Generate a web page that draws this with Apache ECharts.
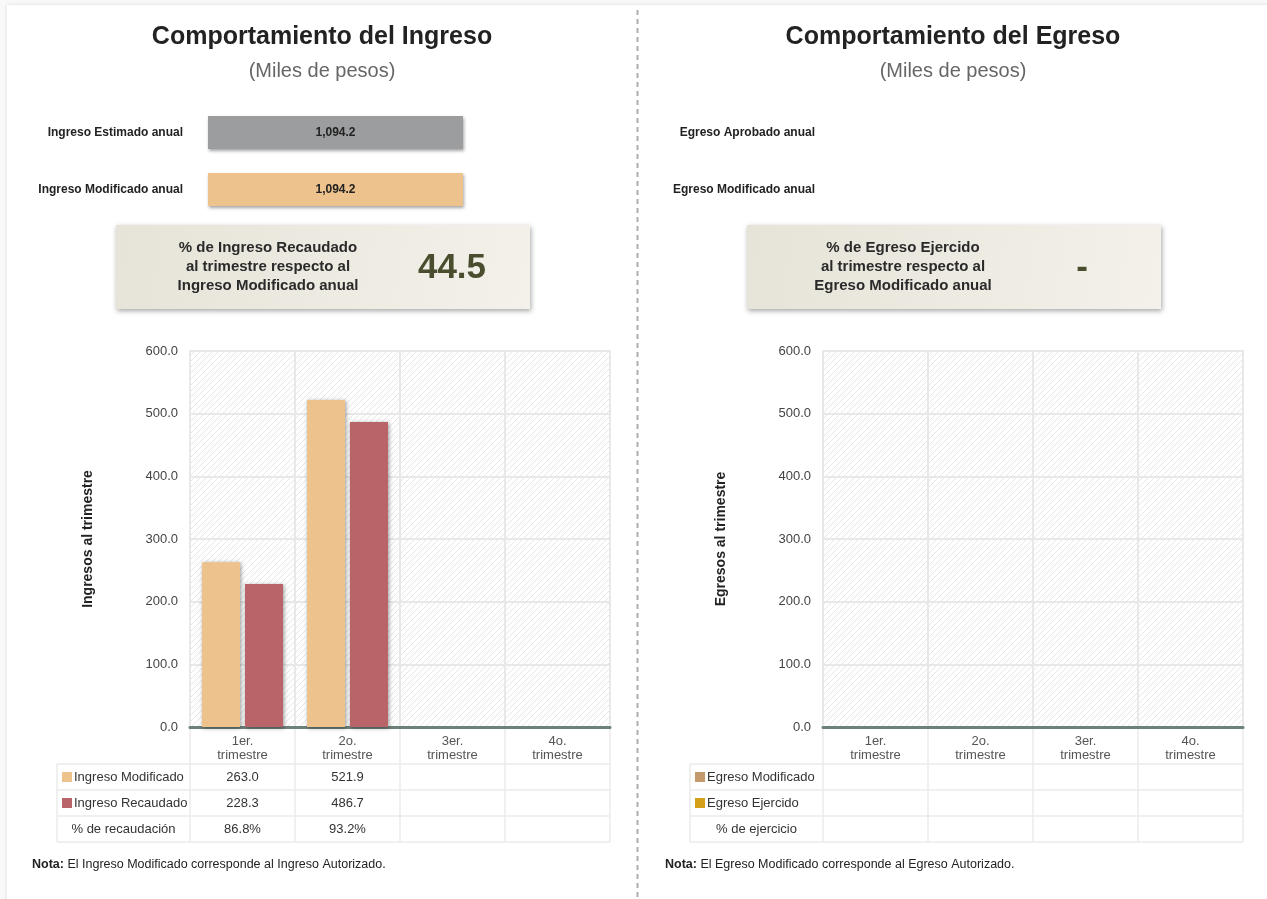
<!DOCTYPE html>
<html>
<head>
<meta charset="utf-8">
<script src="https://cdn.jsdelivr.net/npm/echarts@6/dist/echarts.min.js"></script>
<style>
html,body{margin:0;padding:0;background:#f9f9f9;}
#c{width:1267px;height:899px;}
</style>
</head>
<body>
<div id="c"></div>
<script>
// ---------- DATA ----------
const quarters = ['1er.\ntrimestre', '2o.\ntrimestre', '3er.\ntrimestre', '4o.\ntrimestre'];
const ingresoModificado = [263.0, 521.9, null, null];
const ingresoRecaudado = [228.3, 486.7, null, null];
const pctRecaudacion = ['86.8%', '93.2%', '', ''];
const egresoModificado = [null, null, null, null];
const egresoEjercido = [null, null, null, null];
const pctEjercicio = ['', '', '', ''];
const annualIngresoLabels = ['Ingreso Estimado anual', 'Ingreso Modificado anual'];
const annualIngresoValues = [1094.2, 1094.2];
const annualEgresoLabels = ['Egreso Aprobado anual', 'Egreso Modificado anual'];
const annualEgresoValues = [null, null];
const kpiIngreso = 44.5;
const kpiEgreso = null;
const yMin = 0, yMax = 600, yInterval = 100;

// ---------- STYLE ----------
const FONT = "'Liberation Sans', Arial, Helvetica, sans-serif";
const C_ORANGE = '#eec28c', C_RED = '#b86468', C_GRAY = '#9c9d9f';
const C_EMOD = '#c49a6c', C_EEJ = '#d4a017';

function hatch() {
  const cv = document.createElement('canvas');
  cv.width = 6; cv.height = 6;
  const ctx = cv.getContext('2d');
  ctx.fillStyle = '#ffffff'; ctx.fillRect(0, 0, 6, 6);
  ctx.strokeStyle = '#e7e7e7'; ctx.lineWidth = 1;
  ctx.beginPath();
  ctx.moveTo(0, 6); ctx.lineTo(6, 0);
  ctx.moveTo(-1, 1); ctx.lineTo(1, -1);
  ctx.moveTo(5, 7); ctx.lineTo(7, 5);
  ctx.stroke();
  return { image: cv, repeat: 'repeat' };
}
const fmt1 = v => (v == null ? '' : v.toLocaleString('en-US', { minimumFractionDigits: 1, maximumFractionDigits: 1 }));

const chart = echarts.init(document.getElementById('c'), null, { renderer: 'canvas' });

const panels = [
  { plotLeft: 190, tableLeft: 57, annualLeft: 208, cx: 322, title: 'Comportamiento del Ingreso', yName: 'Ingresos al trimestre',
    kpiX: 116, kpiTextX: 268, kpiValX: 452, kpiLines: ['% de Ingreso Recaudado', 'al trimestre respecto al', 'Ingreso Modificado anual'],
    kpi: kpiIngreso, rows: [
      { name: 'Ingreso Modificado', color: C_ORANGE, vals: ingresoModificado.map(fmt1) },
      { name: 'Ingreso Recaudado', color: C_RED, vals: ingresoRecaudado.map(fmt1) },
      { name: '% de recaudación', color: null, vals: pctRecaudacion }],
    note: 'El Ingreso Modificado corresponde al Ingreso Autorizado.', noteX: 32 },
  { plotLeft: 823, tableLeft: 690, annualLeft: 840, cx: 953, title: 'Comportamiento del Egreso', yName: 'Egresos al trimestre',
    kpiX: 747, kpiTextX: 903, kpiValX: 1082, kpiLines: ['% de Egreso Ejercido', 'al trimestre respecto al', 'Egreso Modificado anual'],
    kpi: kpiEgreso, rows: [
      { name: 'Egreso Modificado', color: C_EMOD, vals: egresoModificado.map(fmt1) },
      { name: 'Egreso Ejercido', color: C_EEJ, vals: egresoEjercido.map(fmt1) },
      { name: '% de ejercicio', color: null, vals: pctEjercicio }],
    note: 'El Egreso Modificado corresponde al Egreso Autorizado.', noteX: 665 }
];

const PLOT_TOP = 351, PLOT_H = 376, PLOT_W = 420, COLW = 105;
const ROWS_Y = [764, 790, 816, 842];

const graphics = [];
// card
graphics.push({ type: 'rect', z: -10, shape: { x: 7, y: 5, width: 1300, height: 950 },
  style: { fill: '#fff', shadowBlur: 4, shadowColor: 'rgba(0,0,0,0.12)' } });
// dashed divider
graphics.push({ type: 'line', shape: { x1: 637.5, y1: 10, x2: 637.5, y2: 899 },
  style: { stroke: '#adadad', lineWidth: 2, lineDash: [5, 4] } });

panels.forEach((p, pi) => {
  graphics.push({ type: 'text', style: { text: p.title, x: p.cx, y: 37, textAlign: 'center', textVerticalAlign: 'middle',
    font: 'bold 25px ' + FONT, fill: '#222' } });
  graphics.push({ type: 'text', style: { text: '(Miles de pesos)', x: p.cx, y: 71, textAlign: 'center', textVerticalAlign: 'middle',
    font: '20px ' + FONT, fill: '#666' } });
  // KPI box
  graphics.push({ type: 'rect', shape: { x: p.kpiX, y: 225, width: 414, height: 84 },
    style: { fill: new echarts.graphic.LinearGradient(0, 0, 1, 1, [{ offset: 0, color: '#e6e3d8' }, { offset: 1, color: '#f3f1ea' }]),
      shadowBlur: 5, shadowOffsetX: 1, shadowOffsetY: 2, shadowColor: 'rgba(0,0,0,0.35)' } });
  p.kpiLines.forEach((t, i) => {
    graphics.push({ type: 'text', style: { text: t, x: p.kpiTextX, y: 248 + i * 19, textAlign: 'center', textVerticalAlign: 'middle',
      font: 'bold 15px ' + FONT, fill: '#2a2a2a' } });
  });
  graphics.push({ type: 'text', style: { text: p.kpi == null ? '-' : p.kpi.toFixed(1), x: p.kpiValX, y: 268,
    textAlign: 'center', textVerticalAlign: 'middle', font: 'bold 35px ' + FONT, fill: '#4a4e2e' } });
  // table
  const L = p.plotLeft, T = p.tableLeft, R = L + PLOT_W;
  const LC = '#ebebeb';
  ROWS_Y.forEach(y => graphics.push({ type: 'line', shape: { x1: T, y1: y, x2: R, y2: y }, style: { stroke: LC, lineWidth: 1.5 } }));
  for (let k = 0; k <= 4; k++) {
    const x = L + k * COLW;
    graphics.push({ type: 'line', shape: { x1: x, y1: PLOT_TOP + PLOT_H + 1, x2: x, y2: ROWS_Y[3] }, style: { stroke: LC, lineWidth: 1.5 } });
  }
  graphics.push({ type: 'line', shape: { x1: T, y1: ROWS_Y[0], x2: T, y2: ROWS_Y[3] }, style: { stroke: LC, lineWidth: 1.5 } });
  p.rows.forEach((r, ri) => {
    const yc = (ROWS_Y[ri] + ROWS_Y[ri + 1]) / 2;
    if (r.color) {
      graphics.push({ type: 'rect', shape: { x: T + 5, y: yc - 5, width: 10, height: 10 }, style: { fill: r.color } });
      graphics.push({ type: 'text', style: { text: r.name, x: T + 17, y: yc, textVerticalAlign: 'middle', font: '13px ' + FONT, fill: '#333' } });
    } else {
      graphics.push({ type: 'text', style: { text: r.name, x: (T + L) / 2, y: yc, textAlign: 'center', textVerticalAlign: 'middle', font: '13px ' + FONT, fill: '#333' } });
    }
    r.vals.forEach((v, k) => {
      graphics.push({ type: 'text', style: { text: v, x: L + k * COLW + COLW / 2, y: yc, textAlign: 'center', textVerticalAlign: 'middle', font: '13px ' + FONT, fill: '#333' } });
    });
  });
  // note
  graphics.push({ type: 'text', style: { text: '{b|Nota:} ' + p.note, x: p.noteX, y: 865, textVerticalAlign: 'middle',
    font: '12.5px ' + FONT, fill: '#222', rich: { b: { fontWeight: 'bold', fontSize: 12.5, fontFamily: FONT, fill: '#222' } } } });
});

const pattern = hatch();
const grids = [], xAxes = [], yAxes = [], series = [];
// annual bars
[[annualIngresoLabels, annualIngresoValues], [annualEgresoLabels, annualEgresoValues]].forEach((pair, i) => {
  grids.push({ left: panels[i].annualLeft, top: 104, width: 255, height: 114 });
  const vals = pair[1].filter(v => v != null);
  xAxes.push({ gridIndex: i, type: 'value', min: 0, max: vals.length ? Math.max(...vals) : 1, show: false });
  yAxes.push({ gridIndex: i, type: 'category', inverse: true, data: pair[0], axisLine: { show: false }, axisTick: { show: false },
    axisLabel: { margin: 25, fontFamily: FONT, fontSize: 12, fontWeight: 'bold', color: '#222' } });
  series.push({ type: 'bar', xAxisIndex: i, yAxisIndex: i, barWidth: 33,
    data: pair[1].map((v, k) => ({ value: v, itemStyle: { color: k === 0 ? C_GRAY : C_ORANGE } })),
    itemStyle: { shadowBlur: 3, shadowOffsetX: 1, shadowOffsetY: 2, shadowColor: 'rgba(0,0,0,0.35)' },
    label: { show: true, position: 'inside', formatter: d => fmt1(d.value), fontFamily: FONT, fontSize: 12, fontWeight: 'bold', color: '#222' },
    silent: true });
});
// quarterly charts
[[ingresoModificado, ingresoRecaudado, C_ORANGE, C_RED], [egresoModificado, egresoEjercido, C_EMOD, C_EEJ]].forEach((d, j) => {
  const gi = 2 + j;
  grids.push({ left: panels[j].plotLeft, top: PLOT_TOP, width: PLOT_W, height: PLOT_H, show: true,
    backgroundColor: pattern, borderColor: '#e8e8e8', borderWidth: 2 });
  xAxes.push({ gridIndex: gi, type: 'category', data: quarters,
    axisLine: { lineStyle: { color: '#6d817c', width: 3 } }, axisTick: { show: false },
    splitLine: { show: true, lineStyle: { color: '#e8e8e8', width: 2 } },
    axisLabel: { margin: 7, fontFamily: FONT, fontSize: 13, lineHeight: 14, color: '#555' } });
  yAxes.push({ gridIndex: gi, type: 'value', min: yMin, max: yMax, interval: yInterval,
    name: panels[j].yName, nameLocation: 'middle', nameGap: 95, nameRotate: 90,
    nameTextStyle: { fontFamily: FONT, fontSize: 14, fontWeight: 'bold', color: '#222' },
    axisLine: { show: false }, axisTick: { show: false },
    splitLine: { lineStyle: { color: '#e8e8e8', width: 2 } },
    axisLabel: { margin: 12, fontFamily: FONT, fontSize: 13, color: '#444', formatter: v => v.toFixed(1) } });
  const sh = { shadowBlur: 4, shadowOffsetX: 1, shadowOffsetY: 1, shadowColor: 'rgba(0,0,0,0.4)' };
  series.push({ type: 'bar', xAxisIndex: gi, yAxisIndex: gi, data: d[0], barWidth: 38, barGap: '13%',
    itemStyle: Object.assign({ color: d[2] }, sh), silent: true });
  series.push({ type: 'bar', xAxisIndex: gi, yAxisIndex: gi, data: d[1], barWidth: 38, barGap: '13%',
    itemStyle: Object.assign({ color: d[3] }, sh), silent: true });
});

chart.setOption({
  animation: false,
  backgroundColor: '#f9f9f9',
  textStyle: { fontFamily: FONT },
  grid: grids, xAxis: xAxes, yAxis: yAxes, series: series,
  graphic: { elements: graphics }
});
</script>
</body>
</html>
